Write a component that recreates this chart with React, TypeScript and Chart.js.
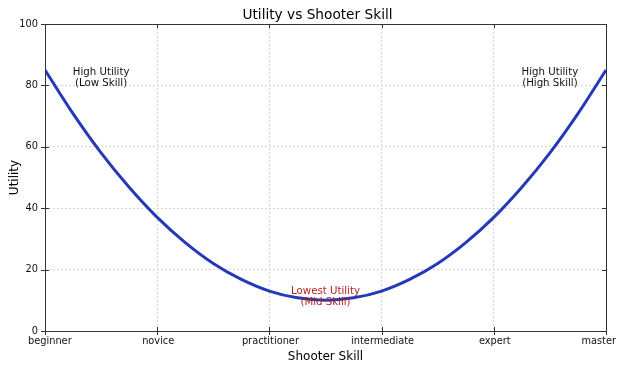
import React, { useEffect, useRef } from "react";
import { Chart, registerables } from "chart.js";

Chart.register(...registerables);

const skillLevels = ["beginner", "novice", "practitioner", "intermediate", "expert", "master"];
const skillPositions = [0, 0.25, 0.5, 0.75, 1, 1.25, 1.5, 1.75, 2, 2.25, 2.5, 2.75, 3, 3.25, 3.5, 3.75, 4, 4.25, 4.5, 4.75, 5];
const utilityValues = [85, 70.8, 58, 46.8, 37, 28.8, 22, 16.8, 13, 10.8, 10, 10.8, 13, 16.8, 22, 28.8, 37, 46.8, 58, 70.8, 85];
const yTicks = [0, 20, 40, 60, 80, 100];

const annotationLines = [
  ["High Utility", "(Low Skill)"],
  ["High Utility", "(High Skill)"],
  ["Lowest Utility", "(Mid Skill)"],
];
const annotationX = [0.5, 4.5, 2.5];
const annotationY = [82.5, 82.5, 11];
const annotationColors = ["#111111", "#111111", "#b22222"];

const FONT = "'DejaVu Sans', Verdana, sans-serif";

const overlayPlugin = {
  id: "mplOverlay",
  afterDatasetsDraw(chart: any) {
    const { ctx, chartArea, scales, width } = chart;
    const { left, right, top, bottom } = chartArea;
    ctx.save();
    // frame
    ctx.strokeStyle = "#333";
    ctx.lineWidth = 1;
    ctx.strokeRect(Math.round(left) + 0.5, Math.round(top) + 0.5, Math.round(right - left), Math.round(bottom - top));
    // ticks
    ctx.beginPath();
    for (let i = 0; i < skillLevels.length; i++) {
      const px = Math.round(scales.x.getPixelForValue(i)) + 0.5;
      ctx.moveTo(px, bottom - 4);
      ctx.lineTo(px, bottom + 4);
      ctx.moveTo(px, top);
      ctx.lineTo(px, top + 4);
    }
    for (const v of yTicks) {
      const py = Math.round(scales.y.getPixelForValue(v)) + 0.5;
      ctx.moveTo(left - 4, py);
      ctx.lineTo(left + 4, py);
      ctx.moveTo(right - 4, py);
      ctx.lineTo(right, py);
    }
    ctx.stroke();
    // x tick labels (kept inside the canvas)
    ctx.font = `9.8px ${FONT}`;
    ctx.fillStyle = "#111";
    ctx.textAlign = "center";
    ctx.textBaseline = "top";
    skillLevels.forEach((lab, i) => {
      const w = ctx.measureText(lab).width;
      let cx = scales.x.getPixelForValue(i) + 1;
      cx = Math.max(cx, 28 + w / 2);
      cx = Math.min(cx, width - 4 - w / 2);
      ctx.fillText(lab, cx, bottom + 6);
    });
    // annotations
    ctx.font = `10.2px ${FONT}`;
    ctx.textAlign = "center";
    ctx.textBaseline = "middle";
    for (let i = 0; i < annotationLines.length; i++) {
      const cx = scales.x.getPixelForValue(annotationX[i]);
      const cy = scales.y.getPixelForValue(annotationY[i]);
      ctx.fillStyle = annotationColors[i];
      const lines = annotationLines[i];
      const lh = 11;
      lines.forEach((t, j) => {
        ctx.fillText(t, cx, cy + (j - (lines.length - 1) / 2) * lh);
      });
    }
    // titles
    ctx.fillStyle = "#000";
    ctx.font = `13.7px ${FONT}`;
    ctx.fillText("Utility vs Shooter Skill", (left + right) / 2 - 8, 15);
    ctx.font = `12px ${FONT}`;
    ctx.fillText("Shooter Skill", (left + right) / 2, 357);
    ctx.save();
    ctx.translate(15, (top + bottom) / 2);
    ctx.rotate(-Math.PI / 2);
    ctx.fillText("Utility", 0, 0);
    ctx.restore();
    ctx.restore();
  },
};

export default function App() {
  const ref = useRef<HTMLCanvasElement>(null);
  useEffect(() => {
    if (!ref.current) return;
    const chart = new Chart(ref.current, {
      type: "line",
      data: {
        datasets: [
          {
            data: skillPositions.map((x, i) => ({ x, y: utilityValues[i] })),
            borderColor: "#2539b8",
            borderWidth: 3,
            pointRadius: 0,
            cubicInterpolationMode: "monotone",
            fill: false,
          },
        ],
      },
      options: {
        animation: false,
        responsive: false,
        devicePixelRatio: 1,
        layout: { padding: { left: 0, right: 14, top: 24, bottom: 0 } },
        plugins: { legend: { display: false }, title: { display: false }, tooltip: { enabled: false } },
        scales: {
          x: {
            type: "linear",
            min: 0,
            max: 5,
            afterFit: (s: any) => { s.height = 39; s.paddingLeft = 0; s.paddingRight = 0; },
            afterBuildTicks: (s: any) => { s.ticks = skillLevels.map((_, i) => ({ value: i })); },
            ticks: {
              display: false,
              stepSize: 1,
              callback: (v: any) => skillLevels[v as number] ?? "",
              autoSkip: false,
            },
            grid: { color: "#d6d6d6", drawTicks: false, lineWidth: 1 },
            border: { display: false, dash: [2, 2] },
          },
          y: {
            min: 0,
            max: 100,
            afterFit: (s: any) => { s.width = 45; s.paddingTop = 0; s.paddingBottom = 0; },
            afterBuildTicks: (s: any) => { s.ticks = yTicks.map((v) => ({ value: v })); },
            ticks: {
              font: { family: FONT, size: 9.8 },
              color: "#111",
              padding: 7,
            },
            grid: { color: "#d6d6d6", drawTicks: false, lineWidth: 1 },
            border: { display: false, dash: [2, 2] },
          },
        },
      },
      plugins: [overlayPlugin],
    } as any);
    return () => chart.destroy();
  }, []);
  return (
    <div style={{ position: "fixed", left: 0, top: 0, width: 620, height: 370, background: "#fff" }}>
      <canvas ref={ref} width={620} height={370} style={{ display: "block" }} />
    </div>
  );
}
